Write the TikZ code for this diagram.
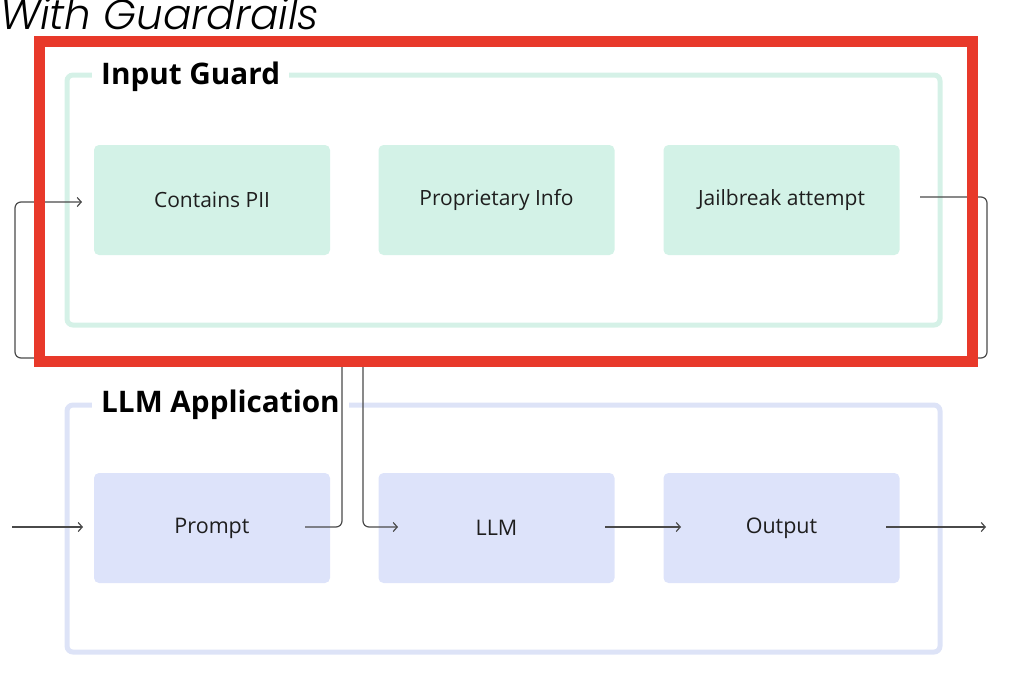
\documentclass[tikz,border=0pt]{standalone}
\usepackage{fontspec}
\setmainfont{Open Sans}
\newfontfamily\titlefont{Poppins}[ItalicFont={Poppins Light Italic}]
\usetikzlibrary{arrows.meta}
\definecolor{redline}{HTML}{E8392A}
\definecolor{gframe}{HTML}{D5F1E7}
\definecolor{gfill}{HTML}{D3F2E7}
\definecolor{bframe}{HTML}{DDE3F7}
\definecolor{bfill}{HTML}{DDE3FA}
\definecolor{conn}{HTML}{4A4A4A}
\definecolor{txt}{HTML}{1E1E1E}
\tikzset{
  gbox/.style={draw=none, fill=gfill, rounded corners=5pt, minimum width=236pt, minimum height=110pt, inner sep=0pt, font=\fontsize{21}{23}\selectfont, text=txt},
  bbox/.style={draw=none, fill=bfill, rounded corners=5pt, minimum width=236pt, minimum height=110pt, inner sep=0pt, font=\fontsize{21.5}{23}\selectfont, text=txt},
  gframestyle/.style={draw=gframe, line width=5pt, rounded corners=6pt},
  bframestyle/.style={draw=bframe, line width=5pt, rounded corners=6pt},
  framelabel/.style={fill=white, inner xsep=9pt, inner ysep=2pt, anchor=west, font=\fontsize{29.7}{31}\selectfont\bfseries, text=black},
  connector/.style={draw=conn, line width=1.2pt, rounded corners=6pt},
  arrowconn/.style={connector, -{Straight Barb[length=4pt,width=9pt]}},
  redbox/.style={draw=redline, line width=11pt}
}
\begin{document}
\begin{tikzpicture}[x=1pt,y=-1pt]
\useasboundingbox (0,0) rectangle (1016,678);
% title
\node[anchor=base west, inner sep=0pt, font=\titlefont\itshape\fontsize{42}{44}\selectfont] (title) at (0,29) {With Guardrails};
% frames
\draw[gframestyle] (67,75) rectangle (940,325);
\draw[bframestyle] (67,405) rectangle (940,652);
\node[framelabel] (iglabel) at (92,77) {Input Guard};
\node[framelabel] (applabel) at (92,405) {LLM Application};
% boxes
\node[gbox] (pii) at (212,200) {Contains PII};
\node[gbox] (prop) at (496.5,200) {Proprietary Info};
\node[gbox] (jail) at (781.5,200) {Jailbreak attempt};
\node[bbox] (prompt) at (212,528) {Prompt};
\node[bbox] (llm) at (496.5,528) {LLM};
\node[bbox] (out) at (781.5,528) {Output};
% connector coordinates
\coordinate (inL) at (12,527);
\coordinate (inEnd) at (83,527);
\coordinate (pOut) at (305,527);
\coordinate (llmIn) at (398,527);
\coordinate (llmOut) at (605,527);
\coordinate (outIn) at (681,527);
\coordinate (outOut) at (886,527);
\coordinate (finalEnd) at (986,527);
\coordinate (piiIn) at (82,202);
\coordinate (jailOut) at (920,197);
% connectors
\draw[arrowconn] (inL) -- (inEnd);
\draw[arrowconn] (pOut) -- (342,527) -- (342,358) -- (15,358) -- (15,202) -- (piiIn);
\draw[arrowconn] (jailOut) -- (987,197) -- (987,358) -- (363,358) -- (363,527) -- (llmIn);
\draw[arrowconn] (llmOut) -- (outIn);
\draw[arrowconn] (outOut) -- (finalEnd);
% red highlight
\draw[redbox] (39,41) rectangle (972,361);
\end{tikzpicture}
\end{document}
